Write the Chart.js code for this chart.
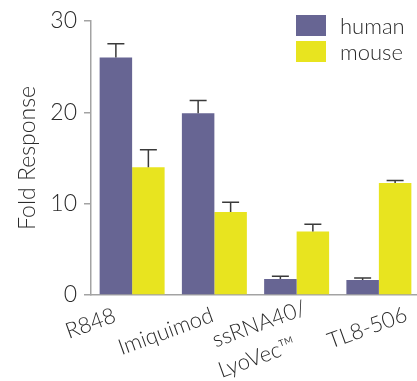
<!DOCTYPE html>
<html>
<head>
<meta charset="utf-8">
<script src="https://cdn.jsdelivr.net/npm/chart.js@4/dist/chart.umd.min.js"></script>
<style>
  html, body { margin: 0; padding: 0; background: #fff; overflow: hidden; }
  #wrap { width: 420px; height: 381px; }
</style>
</head>
<body>
<div id="wrap"><canvas id="c" width="420" height="381"></canvas></div>
<script>
// ---- data ----
const categories = [['R848'], ['Imiquimod'], ['ssRNA40/', 'LyoVec\u2122'], ['TL8-506']];
const seriesNames = ['human', 'mouse'];
const humanValues = [26.0, 19.9, 1.75, 1.65];
const humanErrors = [1.5, 1.4, 0.3, 0.2];
const mouseValues = [14.0, 9.1, 6.95, 12.25];
const mouseErrors = [1.9, 1.05, 0.8, 0.3];
const yTickValues = [0, 10, 20, 30];

// ---- styles ----
const FONT = '"Lato", "Open Sans", sans-serif';
const TEXT = '#2b2b2b';
const AXIS = '#a3a3a3';
const COLORS = ['#676593', '#e8e41f'];
// label-centre offsets (relative to tick x and axis bottom), one list per line
const labelOffsets = [[[-41.5, 28.5]], [[-48.5, 36.5]], [[-37.5, 29], [-39.5, 62.5]], [[-11.5, 33]]];

const errorBars = {
  id: 'errorBars',
  afterDatasetsDraw(chart) {
    const ctx = chart.ctx, y = chart.scales.y;
    const errs = [humanErrors, mouseErrors];
    ctx.save();
    ctx.strokeStyle = '#3a3a3a';
    ctx.lineWidth = 1.5;
    chart.data.datasets.forEach((ds, di) => {
      const meta = chart.getDatasetMeta(di);
      meta.data.forEach((el, i) => {
        const top = y.getPixelForValue(ds.data[i] + errs[di][i]);
        ctx.beginPath();
        ctx.moveTo(el.x, el.y);
        ctx.lineTo(el.x, top);
        ctx.moveTo(el.x - 8.5, top);
        ctx.lineTo(el.x + 8.5, top);
        ctx.stroke();
      });
    });
    ctx.restore();
  }
};

const customLegend = {
  id: 'customLegend',
  afterDraw(chart) {
    const ctx = chart.ctx;
    ctx.save();
    ctx.font = '300 22px ' + FONT;
    ctx.textBaseline = 'alphabetic';
    ctx.textAlign = 'left';
    chart.data.datasets.forEach((ds, i) => {
      const top = 15 + i * 26;
      ctx.fillStyle = ds.backgroundColor;
      ctx.fillRect(296, top, 30, 21);
      ctx.fillStyle = TEXT;
      ctx.fillText(ds.label, 340, top + 19);
    });
    ctx.restore();
  }
};

const xLabels = {
  id: 'xLabels',
  afterDraw(chart) {
    const ctx = chart.ctx, x = chart.scales.x, base = chart.chartArea.bottom;
    ctx.save();
    ctx.font = '300 22px ' + FONT;
    ctx.fillStyle = TEXT;
    ctx.textAlign = 'center';
    ctx.textBaseline = 'middle';
    chart.data.labels.forEach((lines, i) => {
      const cx = x.getPixelForValue(i);
      lines.forEach((line, j) => {
        const [dx, dy] = labelOffsets[i][j];
        ctx.save();
        ctx.translate(cx + dx, base + dy);
        ctx.rotate(-20 * Math.PI / 180);
        ctx.fillText(line, 0, 0);
        ctx.restore();
      });
    });
    ctx.restore();
  }
};

new Chart(document.getElementById('c'), {
  type: 'bar',
  data: {
    labels: categories,
    datasets: [
      { label: seriesNames[0], data: humanValues, backgroundColor: COLORS[0] },
      { label: seriesNames[1], data: mouseValues, backgroundColor: COLORS[1] }
    ]
  },
  options: {
    responsive: false,
    animation: false,
    devicePixelRatio: 1,
    layout: { padding: { top: 21, bottom: 86, left: 0, right: 0 } },
    datasets: { bar: { categoryPercentage: 0.79, barPercentage: 1.0, borderWidth: 0 } },
    plugins: { legend: { display: false }, tooltip: { enabled: false } },
    scales: {
      x: {
        offset: true,
        grid: { display: false },
        border: { display: true, color: AXIS, width: 1.5 },
        ticks: { display: false },
        afterFit(s) { s.height = 0; }
      },
      y: {
        min: 0, max: 30,
        afterBuildTicks(s) { s.ticks = yTickValues.map(v => ({ value: v })); },
        grid: { drawOnChartArea: false, drawTicks: true, tickLength: 7, color: AXIS, lineWidth: 1.5 },
        border: { display: true, color: AXIS, width: 1.5 },
        ticks: { padding: 7, color: TEXT, font: { family: FONT, size: 23, weight: 300 } },
        title: { display: true, text: 'Fold Response', color: TEXT, padding: { top: 14, bottom: 0 },
                 font: { family: FONT, size: 23, weight: 300 } },
        afterFit(s) { s.width = 91; }
      }
    }
  },
  plugins: [errorBars, customLegend, xLabels]
});
</script>
</body>
</html>
